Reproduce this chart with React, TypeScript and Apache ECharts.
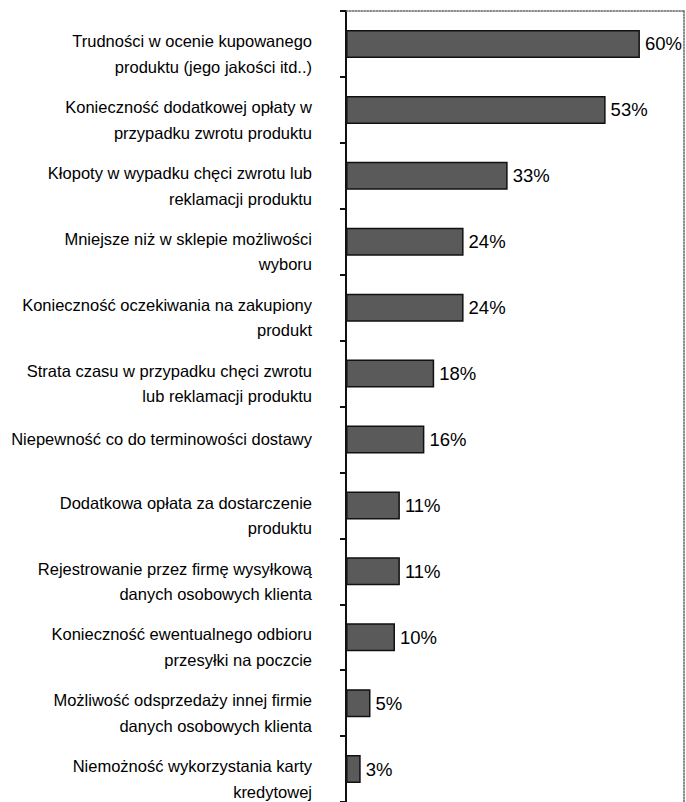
import React, { useEffect, useRef } from "react";
import * as echarts from "echarts";

const categories: string[] = [
  "Trudności w ocenie kupowanego\nproduktu (jego jakości itd..)",
  "Konieczność dodatkowej opłaty w\nprzypadku zwrotu produktu",
  "Kłopoty w wypadku chęci zwrotu lub\nreklamacji produktu",
  "Mniejsze niż w sklepie możliwości\nwyboru",
  "Konieczność oczekiwania na zakupiony\nprodukt",
  "Strata czasu w przypadku chęci zwrotu\nlub reklamacji produktu",
  "Niepewność co do terminowości dostawy",
  "Dodatkowa opłata za dostarczenie\nproduktu",
  "Rejestrowanie przez firmę wysyłkową\ndanych osobowych klienta",
  "Konieczność ewentualnego odbioru\nprzesyłki na poczcie",
  "Możliwość odsprzedaży innej firmie\ndanych osobowych klienta",
  "Niemożność wykorzystania karty\nkredytowej",
];

const values: number[] = [60, 53, 33, 24, 24, 18, 16, 11, 11, 10, 5, 3];

const FONT = '"Liberation Sans", Arial, sans-serif';

export default function App() {
  const ref = useRef<HTMLDivElement>(null);

  useEffect(() => {
    if (!ref.current) return;
    const chart = echarts.init(ref.current, null, { renderer: "svg" });
    chart.setOption({
      animation: false,
      backgroundColor: "#ffffff",
      grid: { left: 346, top: 11, width: 338, height: 792, containLabel: false },
      xAxis: [
        {
          type: "value",
          min: 0,
          max: 69,
          position: "top",
          axisLine: { show: true, lineStyle: { color: "#666", type: "dotted", width: 1.5 } },
          axisTick: { show: false },
          axisLabel: { show: false },
          splitLine: { show: false },
        },
      ],
      yAxis: [
        {
          type: "category",
          inverse: true,
          data: categories,
          axisLine: { show: true, lineStyle: { color: "#111", width: 2 } },
          axisTick: { show: true, length: 6, lineStyle: { color: "#111", width: 2 } },
          axisLabel: {
            interval: 0,
            showMinLabel: true,
            showMaxLabel: true,
            hideOverlap: false,
            margin: 34,
            color: "#000",
            fontFamily: FONT,
            fontSize: 16.5,
            align: "right",
            formatter: (v: string) =>
              v.includes("\n")
                ? "{sp| }\n" + v.split("\n").map((l) => `{t|${l}}`).join("\n")
                : `{t|${v}}`,
            rich: {
              sp: { fontSize: 4, lineHeight: 20, fontFamily: FONT },
              t: { fontSize: 16.5, lineHeight: 25.5, fontFamily: FONT, color: "#000" },
            },
          },
        },
        {
          type: "category",
          position: "right",
          inverse: true,
          data: categories,
          axisLine: { show: true, lineStyle: { color: "#666", type: "dotted", width: 1.5 } },
          axisTick: { show: false },
          axisLabel: { show: false },
        },
      ],
      series: [
        {
          type: "bar",
          data: values,
          xAxisIndex: 0,
          yAxisIndex: 0,
          barWidth: 28,
          itemStyle: { color: "#5a5a5a", borderColor: "#111", borderWidth: 1.5 },
          label: {
            show: true,
            position: "right",
            distance: 5,
            formatter: "{c}%",
            color: "#000",
            fontFamily: FONT,
            fontSize: 18.5,
          },
        },
      ],
    });
    return () => chart.dispose();
  }, []);

  return (
    <div
      ref={ref}
      style={{ position: "absolute", left: 0, top: 0, width: 686, height: 802 }}
    />
  );
}
